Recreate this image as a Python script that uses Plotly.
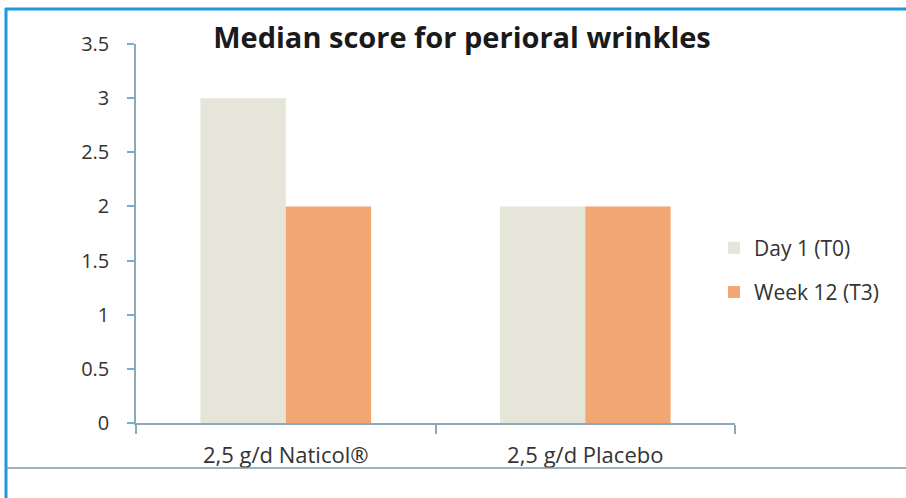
import plotly.graph_objects as go

categories = ["2,5 g/d Naticol®", "2,5 g/d Placebo"]
series_names = ["Day 1 (T0)", "Week 12 (T3)"]
day1_values = [3, 2]
week12_values = [2, 2]
y_ticks = [0, 0.5, 1, 1.5, 2, 2.5, 3, 3.5]
y_tick_labels = ["0", "0.5", "1", "1.5", "2", "2.5", "3", "3.5"]
title_text = "Median score for perioral wrinkles"

FONT = "'Open Sans', Lato, sans-serif"
W, H = 906, 498
L, R, T, B = 136, 735, 44, 423

def px(x):
    return (x - L) / (R - L)

def py(y):
    return (B - y) / (B - T)

fig = go.Figure()
fig.add_trace(go.Bar(x=categories, y=day1_values, name=series_names[0],
                     legendgroup="g1",
                     marker=dict(color="#e6e5d9", line=dict(width=0))))
fig.add_trace(go.Bar(x=categories, y=week12_values, name=series_names[1],
                     legendgroup="g2",
                     marker=dict(color="#f2a671", line=dict(width=0))))

fig.update_layout(
    width=W, height=H,
    margin=dict(l=L, r=W - R, t=T, b=H - B, autoexpand=False),
    paper_bgcolor="white", plot_bgcolor="white",
    barmode="group", bargap=0.43, bargroupgap=0,
    font=dict(family=FONT, color="#333333", size=20),
    title=dict(text="<b>" + title_text + "</b>", xref="container",
               x=462 / W, xanchor="center",
               yref="container", y=1 - 38 / H, yanchor="middle",
               font=dict(family=FONT, size=29, color="#1a1a1a")),
    legend=dict(x=px(714), xanchor="left", y=py(270), yanchor="middle",
                font=dict(size=21, color="#333333"), itemwidth=30,
                tracegroupgap=14, bgcolor="rgba(0,0,0,0)"),
    showlegend=True,
)
fig.update_yaxes(range=[0, 3.5], tickvals=y_ticks, ticktext=y_tick_labels,
                 showgrid=False, zeroline=False, showline=True,
                 linecolor="#8ea9b6", linewidth=1.5,
                 ticks="outside", ticklen=7, tickcolor="#6fb0d6", tickwidth=1.5,
                 ticklabelstandoff=14, tickfont=dict(size=20, color="#333333"))
fig.update_xaxes(showgrid=False, zeroline=False, showline=True,
                 linecolor="#8ea9b6", linewidth=1.5,
                 ticks="outside", ticklen=9, tickcolor="#8ea9b6", tickwidth=1.5,
                 tickson="boundaries", ticklabelstandoff=12,
                 tickfont=dict(size=22, color="#333333"))

# frame lines
fig.add_shape(type="line", xref="paper", yref="paper",
              x0=px(5), x1=px(906), y0=py(9), y1=py(9),
              line=dict(color="#1a9ad6", width=3))
fig.add_shape(type="line", xref="paper", yref="paper",
              x0=px(6), x1=px(6), y0=py(8), y1=py(498),
              line=dict(color="#1a9ad6", width=3))
fig.add_shape(type="line", xref="paper", yref="paper",
              x0=px(6), x1=px(906), y0=py(468), y1=py(468),
              line=dict(color="#7f9aa8", width=1.5))

fig.write_html("out.html", config={"displayModeBar": False},
               post_script="document.body.style.margin='0';document.body.style.overflow='hidden';")
